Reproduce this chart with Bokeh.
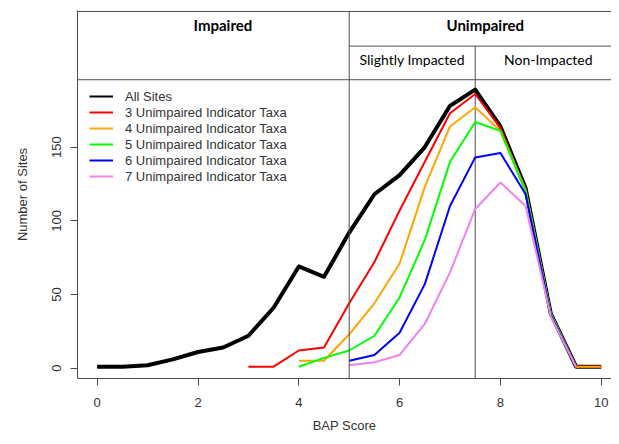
from bokeh.plotting import figure
from bokeh.models import Legend, LegendItem, Span, Label, FixedTicker, Range1d
from bokeh.embed import file_html
from bokeh.resources import INLINE

# ---- data ----
bap_all = [0, 0.5, 1, 1.5, 2, 2.5, 3, 3.5, 4, 4.5, 5, 5.5, 6, 6.5, 7, 7.5, 8, 8.5, 9, 9.5, 10]
all_sites = [1, 1, 2, 6, 11, 14, 22, 41, 69, 62, 92, 118, 131, 150, 178, 189, 164, 122, 37, 1, 1]

bap_t3 = [3, 3.5, 4, 4.5, 5, 5.5, 6, 6.5, 7, 7.5, 8, 8.5, 9, 9.5, 10]
taxa3 = [1, 1, 12, 14, 44, 72, 107, 140, 173, 186, 163, 121, 37, 1, 1]

bap_t4 = [4, 4.5, 5, 5.5, 6, 6.5, 7, 7.5, 8, 8.5, 9, 9.5, 10]
taxa4 = [5, 5, 23, 44, 71, 123, 164, 177, 161, 121, 37, 1, 1]

bap_t5 = [4, 4.5, 5, 5.5, 6, 6.5, 7, 7.5, 8, 8.5, 9, 9.5]
taxa5 = [1, 7, 12, 22, 48, 87, 140, 167, 161, 120, 37, 1]

bap_t6 = [5, 5.5, 6, 6.5, 7, 7.5, 8, 8.5, 9, 9.5]
taxa6 = [5, 9, 24, 57, 110, 143, 146, 118, 36, 1]

bap_t7 = [5, 5.5, 6, 6.5, 7, 7.5, 8, 8.5, 9, 9.5]
taxa7 = [2, 4, 9, 30, 65, 108, 126, 110, 35, 1]

series_labels = ["All Sites", "3 Unimpaired Indicator Taxa", "4 Unimpaired Indicator Taxa",
                 "5 Unimpaired Indicator Taxa", "6 Unimpaired Indicator Taxa",
                 "7 Unimpaired Indicator Taxa"]
series_colors = ["black", "#FF0000", "#FFA500", "#00FF00", "#0000FF", "#EE82EE"]

x_ticks = [0, 2, 4, 6, 8, 10]
y_ticks = [0, 50, 100, 150]

impaired_max = 5        # Impaired | Unimpaired boundary
nonimpacted_min = 7.5   # Slightly Impacted | Non-Impacted boundary
header_titles = ["Impaired", "Unimpaired"]
sub_titles = ["Slightly Impacted", "Non-Impacted"]
x_title = "BAP Score"
y_title = "Number of Sites"

# ---- layout ----
X0, X1 = -0.391, 10.204
XR = 10.4                      # right edge of the original plotting box
Y0, Y1 = -7.0, 242.66
HDR_TOP, HDR_BOTTOM, HDR_SUB = 242.0, 195.7, 218.5

AX_COL = "#4d4d4d"
TXT_COL = "#333333"
FONT = "Liberation Sans"
HFONT = "Lato"

p = figure(width=611, height=436, output_backend="svg", toolbar_location=None,
           x_range=Range1d(X0, X1), y_range=Range1d(Y0, Y1),
           min_border_left=77, min_border_right=0, min_border_top=10, min_border_bottom=58)
p.grid.visible = False
p.outline_line_color = None
p.background_fill_color = "white"

for ax in (p.xaxis[0], p.yaxis[0]):
    ax.axis_line_color = AX_COL
    ax.major_tick_line_color = AX_COL
    ax.minor_tick_line_color = None
    ax.major_tick_in = 0
    ax.major_tick_out = 7
    ax.major_label_text_font = FONT
    ax.major_label_text_font_size = "13px"
    ax.major_label_text_color = TXT_COL
    ax.axis_label_text_font = FONT
    ax.axis_label_text_font_size = "13px"
    ax.axis_label_text_font_style = "normal"
    ax.axis_label_text_color = TXT_COL

p.xaxis.ticker = FixedTicker(ticks=x_ticks)
p.yaxis.ticker = FixedTicker(ticks=y_ticks)
p.xaxis.axis_label = x_title
p.yaxis.axis_label = y_title
p.yaxis.major_label_orientation = "vertical"
p.xaxis.major_label_standoff = 12
p.xaxis.axis_label_standoff = 8
p.yaxis.major_label_standoff = 9
p.yaxis.axis_label_standoff = 20

# header box
p.add_layout(Span(location=HDR_TOP, dimension="width", line_color=AX_COL, line_width=1))
p.add_layout(Span(location=HDR_BOTTOM, dimension="width", line_color=AX_COL, line_width=1))
p.add_layout(Span(location=impaired_max, dimension="height", line_color=AX_COL, line_width=1))
p.segment(x0=[impaired_max, nonimpacted_min], y0=[HDR_SUB, Y0],
          x1=[XR, nonimpacted_min], y1=[HDR_SUB, HDR_SUB],
          line_color=AX_COL, line_width=1)

p.add_layout(Label(x=(X0 + impaired_max) / 2 + 0.19, y=232.5, text=header_titles[0],
                   text_align="center", text_baseline="middle", text_font=HFONT,
                   text_font_style="bold", text_font_size="15px", text_color="black"))
p.add_layout(Label(x=(impaired_max + XR) / 2, y=232.5, text=header_titles[1],
                   text_align="center", text_baseline="middle", text_font=HFONT,
                   text_font_style="bold", text_font_size="15px", text_color="black"))
p.add_layout(Label(x=(impaired_max + nonimpacted_min) / 2, y=209.2, text=sub_titles[0],
                   text_align="center", text_baseline="middle", text_font=HFONT,
                   text_font_size="14px", text_color="black"))
p.add_layout(Label(x=(nonimpacted_min + XR) / 2, y=209.2, text=sub_titles[1],
                   text_align="center", text_baseline="middle", text_font=HFONT,
                   text_font_size="14px", text_color="black"))

# data lines
xs = [bap_all, bap_t3, bap_t4, bap_t5, bap_t6, bap_t7]
ys = [all_sites, taxa3, taxa4, taxa5, taxa6, taxa7]
items = []
for i, (x, y) in enumerate(zip(xs, ys)):
    if i == 0:
        # thin copy (hidden under the thick line) used as the legend key
        key = p.line(x, y, line_color=series_colors[i], line_width=2)
        p.line(x, y, line_color=series_colors[i], line_width=4, line_join="round")
    else:
        key = p.line(x, y, line_color=series_colors[i], line_width=2, line_join="round")
    items.append(LegendItem(label=series_labels[i], renderers=[key]))

legend = Legend(items=items, location=(12, 194), padding=0, margin=0, spacing=0,
                label_height=16, glyph_height=16, glyph_width=24, label_standoff=12,
                label_text_font=FONT, label_text_font_size="13px", label_text_color=TXT_COL,
                border_line_color=None, background_fill_alpha=0)
p.add_layout(legend)

open("out.html", "w").write(file_html(p, INLINE))
